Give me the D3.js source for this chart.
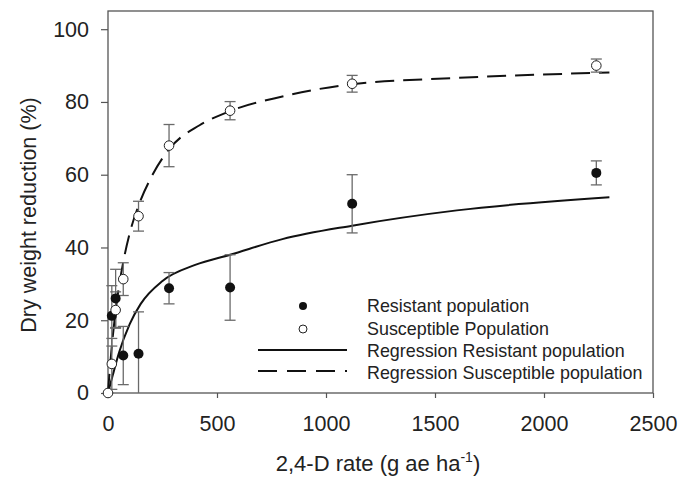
<!DOCTYPE html>
<html>
<head>
<meta charset="utf-8">
<script src="https://cdn.jsdelivr.net/npm/d3@7"></script>
<style>
  body { margin: 0; background: #fff; }
  svg { font-family: "Liberation Sans", Arial, sans-serif; }
</style>
</head>
<body>
<svg id="chart" width="683" height="478"></svg>
<script>
const resDose = [17.5, 35, 70, 140, 280, 560, 1120, 2240]
const resMean = [21.2, 26, 10.3, 10.8, 28.8, 29, 52, 60.5]
const resErr  = [8.3, 8, 8, 11.5, 4.3, 9, 8, 3.3]

const susDose = [0, 17.5, 35, 70, 140, 280, 560, 1120, 2240]
const susMean = [0, 8, 22.8, 31.3, 48.6, 68, 77.6, 85, 90]
const susErr  = [0, 7, 5, 4.5, 4.1, 5.8, 2.5, 2.3, 1.8]

// fitted regression lines
const resFitX = [0, 10, 25, 50, 100, 150, 250, 400, 560, 800, 1120, 1600, 2300]
const resFitY = [0, 2.3, 5.6, 11, 19, 24.5, 30.8, 35.2, 38, 42.3, 46, 50.2, 53.8]
const susFitX = [0, 10, 17.5, 35, 70, 100, 140, 200, 280, 420, 560, 800, 1120, 1600, 2300]
const susFitY = [0, 7.8, 12.9, 22.6, 36, 44, 51.5, 59.5, 67, 73.6, 77.5, 81.5, 84.9, 86.6, 88.1]

const xTicks = [0, 500, 1000, 1500, 2000, 2500]
const yTicks = [0, 20, 40, 60, 80, 100]

const legendItems = ["Resistant population", "Susceptible Population",
  "Regression Resistant population", "Regression Susceptible population"]

const svg = d3.select("#chart")
const x = d3.scaleLinear().domain([0, 2500]).range([108, 653])
const y = d3.scaleLinear().domain([0, 105]).range([393, 11])
const axisCol = "#555"

// frame
svg.append("rect").attr("x", x(0)).attr("y", y(105))
  .attr("width", x(2500) - x(0)).attr("height", y(0) - y(105))
  .attr("fill", "none").attr("stroke", axisCol).attr("stroke-width", 1.3)

const xAxis = svg.append("g").attr("transform", `translate(0,${y(0)})`)
  .call(d3.axisBottom(x).tickValues(xTicks).tickSize(5).tickPadding(18).tickFormat(d3.format("d")))
const yAxis = svg.append("g").attr("transform", `translate(${x(0)},0)`)
  .call(d3.axisLeft(y).tickValues(yTicks).tickSize(7).tickPadding(12))
;[xAxis, yAxis].forEach(function(a){
  a.select(".domain").remove()
  a.selectAll("line").attr("stroke", axisCol).attr("stroke-width", 1.2)
  a.selectAll("text").attr("font-size", 21.5).attr("fill", "#222")
    .attr("font-family", "Liberation Sans, Arial, sans-serif")
})

// axis titles
svg.append("text").attr("transform", "translate(36,215) rotate(-90)")
  .attr("text-anchor", "middle").attr("font-size", 21.5).attr("fill", "#222")
  .text("Dry weight reduction (%)")
//baseline pulled up a bit so the descenders stay inside the page
const xl = svg.append("text").attr("x", 378).attr("y", 471)
  .attr("text-anchor", "middle").attr("font-size", 22).attr("fill", "#222")
xl.append("tspan").text("2,4-D rate (g ae ha")
xl.append("tspan").attr("font-size", 14).attr("dy", -9).text("-1")
xl.append("tspan").attr("dy", 9).text(")")

// regression curves
const line = d3.line().x(d => x(d[0])).y(d => y(d[1])).curve(d3.curveMonotoneX)
svg.append("path").datum(d3.zip(resFitX, resFitY)).attr("d", line)
  .attr("fill", "none").attr("stroke", "#111").attr("stroke-width", 2)
svg.append("path").datum(d3.zip(susFitX, susFitY)).attr("d", line)
  .attr("fill", "none").attr("stroke", "#111").attr("stroke-width", 2)
  .attr("stroke-dasharray", "19,9")

// error bars
function errBars(dose, mean, err){
  const g = svg.append("g").attr("stroke", "#6a6a6a").attr("stroke-width", 1.3)
  dose.forEach(function(d, i){
    if (!err[i]) return
    const lo = Math.max(0, mean[i] - err[i]), hi = mean[i] + err[i]
    g.append("line").attr("x1", x(d)).attr("x2", x(d)).attr("y1", y(lo)).attr("y2", y(hi))
    g.append("line").attr("x1", x(d) - 5.5).attr("x2", x(d) + 5.5).attr("y1", y(hi)).attr("y2", y(hi))
    if (mean[i] - err[i] > 0)
      g.append("line").attr("x1", x(d) - 5.5).attr("x2", x(d) + 5.5).attr("y1", y(lo)).attr("y2", y(lo))
  })
}
errBars(resDose, resMean, resErr)
errBars(susDose, susMean, susErr)

// points
svg.append("g").selectAll("circle").data(d3.zip(resDose, resMean)).enter().append("circle")
  .attr("cx", d => x(d[0])).attr("cy", d => y(d[1])).attr("r", 5).attr("fill", "#111")
svg.append("g").selectAll("circle").data(d3.zip(susDose, susMean)).enter().append("circle")
  .attr("cx", d => x(d[0])).attr("cy", d => y(d[1])).attr("r", 4.8)
  .attr("fill", "#fff").attr("stroke", "#222").attr("stroke-width", 1)

// legend
const lg = svg.append("g")
const rows = [312, 335, 357, 379]
lg.append("circle").attr("cx", 303).attr("cy", 306).attr("r", 4).attr("fill", "#111")
lg.append("circle").attr("cx", 303).attr("cy", 329).attr("r", 4)
  .attr("fill", "#fff").attr("stroke", "#222").attr("stroke-width", 1)
lg.append("line").attr("x1", 258).attr("x2", 347).attr("y1", 350).attr("y2", 350)
  .attr("stroke", "#111").attr("stroke-width", 2)
lg.append("line").attr("x1", 258).attr("x2", 347).attr("y1", 371).attr("y2", 371)
  .attr("stroke", "#111").attr("stroke-width", 2).attr("stroke-dasharray", "19,10")
lg.selectAll("text").data(legendItems).enter().append("text")
  .attr("x", 367).attr("y", (d, i) => rows[i])
  .attr("font-size", 17.9).attr("fill", "#222").text(d => d)
</script>
</body>
</html>
